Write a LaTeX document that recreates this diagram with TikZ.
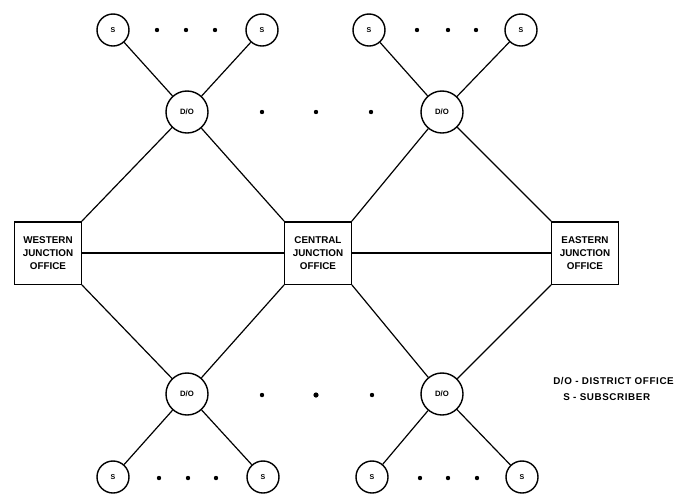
\documentclass[tikz,border=0pt]{standalone}
\usepackage{fontspec}
\setmainfont{Liberation Sans}
\usepackage{tikz}
\usetikzlibrary{calc}

\begin{document}
\begin{tikzpicture}[x=0.025cm,y=-0.025cm]
                \tikzstyle{every node}+=[inner sep=0pt]
                \tikzstyle{sub}=[draw,circle,line width=1pt,minimum size=0.8cm,font=\fontsize{5}{5}\selectfont\bfseries]
                \tikzstyle{district}=[draw,circle,line width=1pt,minimum size=1.05cm,font=\fontsize{5.5}{6}\selectfont\bfseries]
                \tikzstyle{junction}=[draw,rectangle,line width=1pt,minimum width=1.66cm,minimum height=1.56cm,align=center,font=\fontsize{7}{9.5}\selectfont\bfseries]
                \tikzstyle{legend}=[anchor=west,font=\fontsize{7}{7}\addfontfeatures{LetterSpace=6}\bfseries]
                \tikzstyle{wire}=[line width=0.85pt]
                \useasboundingbox (0,0) rectangle (686,496);
                \node [junction] (wjo) at (48,253) {WESTERN\\JUNCTION\\OFFICE};
                \node [junction] (cjo) at (318,253) {CENTRAL\\JUNCTION\\OFFICE};
                \node [junction] (ejo) at (585,253) {EASTERN\\JUNCTION\\OFFICE};
                \node [district] (do1) at (187,112) {D/O};
                \node [district] (do2) at (442,112) {D/O};
                \node [district] (do3) at (187,394) {D/O};
                \node [district] (do4) at (442,394) {D/O};
                \node [sub] (s1) at (113,30) {S};
                \node [sub] (s2) at (262,30) {S};
                \node [sub] (s3) at (369,30) {S};
                \node [sub] (s4) at (521,30) {S};
                \node [sub] (s5) at (113,477) {S};
                \node [sub] (s6) at (263,477) {S};
                \node [sub] (s7) at (372,477) {S};
                \node [sub] (s8) at (522,477) {S};
                \draw [wire] (wjo) -- (cjo) -- (ejo);
                \draw [wire] (wjo.north east) -- (do1) -- (cjo.north west);
                \draw [wire] (cjo.north east) -- (do2) -- (ejo.north west);
                \draw [wire] (wjo.south east) -- (do3) -- (cjo.south west);
                \draw [wire] (cjo.south east) -- (do4) -- (ejo.south west);
                \draw [wire] (s1) -- (do1) -- (s2);
                \draw [wire] (s3) -- (do2) -- (s4);
                \draw [wire] (s5) -- (do3) -- (s6);
                \draw [wire] (s7) -- (do4) -- (s8);
                \fill (157,30) circle (2.2);
                \fill (186,30) circle (2.2);
                \fill (215,30) circle (2.2);
                \fill (417,30) circle (2.2);
                \fill (448,30) circle (2.2);
                \fill (476,30) circle (2.2);
                \fill (262,112) circle (2.2);
                \fill (316,112) circle (2.2);
                \fill (371,112) circle (2.2);
                \fill (262,395) circle (2.2);
                \fill (316,395) circle (2.6);
                \fill (372,395) circle (2.2);
                \fill (159,478) circle (2.2);
                \fill (188,478) circle (2.2);
                \fill (216,478) circle (2.2);
                \fill (420,478) circle (2.2);
                \fill (448,478) circle (2.2);
                \fill (477,478) circle (2.2);
                \node [legend] (legdo) at (553,381) {D/O - DISTRICT OFFICE};
                \node [legend] (legs) at (563,397) {S - SUBSCRIBER};
\end{tikzpicture}
\end{document}
